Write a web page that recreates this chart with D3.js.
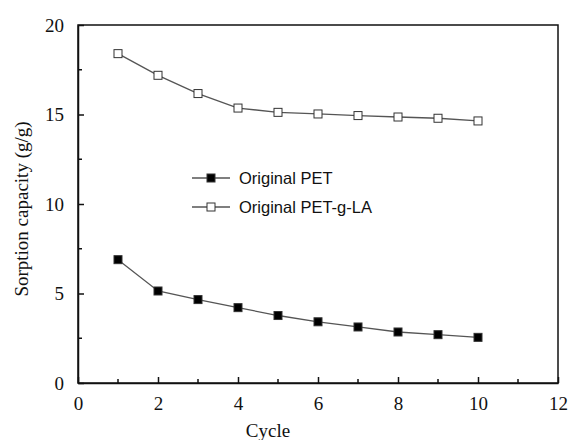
<!DOCTYPE html>
<html>
<head>
<meta charset="utf-8">
<script src="https://cdn.jsdelivr.net/npm/d3@7"></script>
<style>
  html, body { margin: 0; padding: 0; background: #fff; }
  svg { display: block; }
  .serif { font-family: 'Liberation Serif', 'Times New Roman', serif; }
  .sans { font-family: 'Liberation Sans', Arial, sans-serif; }
</style>
</head>
<body>
<svg id="chart" width="570" height="440"></svg>
<script>
// Sorption capacity over repeated sorption cycles
const cycles = [1, 2, 3, 4, 5, 6, 7, 8, 9, 10];
const originalPET = [6.89, 5.14, 4.66, 4.21, 3.77, 3.42, 3.13, 2.85, 2.70, 2.55];
const originalPETgLA = [18.40, 17.19, 16.17, 15.36, 15.12, 15.03, 14.94, 14.86, 14.79, 14.64];
const xTicks = [0, 2, 4, 6, 8, 10, 12];
const yTicks = [0, 5, 10, 15, 20];
const seriesNames = ["Original PET", "Original PET-g-LA"];

const svg = d3.select("#chart");
const plotLeft = 78, plotRight = 558, plotTop = 25, plotBottom = 383;

const x = d3.scaleLinear().domain([0, 12]).range([plotLeft, plotRight]);
const y = d3.scaleLinear().domain([0, 20]).range([plotBottom, plotTop]);

const serif = "'Liberation Serif', 'Times New Roman', serif";
const sans = "'Liberation Sans', Arial, sans-serif";

// Plot frame
svg.append("rect")
  .attr("x", plotLeft).attr("y", plotTop)
  .attr("width", plotRight - plotLeft).attr("height", plotBottom - plotTop)
  .attr("fill", "none").attr("stroke", "#111").attr("stroke-width", 1.5);

// Bottom axis: inward ticks, minor ticks at odd cycles
const xAxis = svg.append("g").attr("transform", `translate(0,${plotBottom})`)
  .call(d3.axisBottom(x).tickValues(xTicks).tickFormat(d3.format("d"))
    .tickSizeInner(-6).tickSizeOuter(0).tickPadding(14));
xAxis.attr("font-family", null).attr("font-size", null);
xAxis.select(".domain").attr("stroke", "#111").attr("stroke-width", 1.5);
xAxis.selectAll(".tick line").attr("stroke", "#111").attr("stroke-width", 1.5);
xAxis.selectAll(".tick text").attr("class", "serif")
  .style("font-family", serif).style("font-size", "19px").attr("fill", "#111");
svg.append("g").attr("transform", `translate(0,${plotBottom})`)
  .selectAll("line").data(d3.range(1, 12, 2)).join("line")
  .attr("x1", d => x(d)).attr("x2", d => x(d)).attr("y1", 0).attr("y2", -4)
  .attr("stroke", "#111").attr("stroke-width", 1.5);

// Left axis: inward ticks, minor ticks at half steps
const yAxis = svg.append("g").attr("transform", `translate(${plotLeft},0)`)
  .call(d3.axisLeft(y).tickValues(yTicks).tickFormat(d3.format("d"))
    .tickSizeInner(-6).tickSizeOuter(0).tickPadding(14));
yAxis.attr("font-family", null).attr("font-size", null);
yAxis.select(".domain").attr("stroke", "#111").attr("stroke-width", 1.5);
yAxis.selectAll(".tick line").attr("stroke", "#111").attr("stroke-width", 1.5);
yAxis.selectAll(".tick text").attr("class", "serif")
  .style("font-family", serif).style("font-size", "19px").attr("fill", "#111");
svg.append("g").attr("transform", `translate(${plotLeft},0)`)
  .selectAll("line").data([2.5, 7.5, 12.5, 17.5]).join("line")
  .attr("y1", d => y(d)).attr("y2", d => y(d)).attr("x1", 0).attr("x2", 4)
  .attr("stroke", "#111").attr("stroke-width", 1.5);

// Axis titles
svg.append("text")
  .attr("x", 268).attr("y", 437)
  .attr("text-anchor", "middle")
  .style("font-family", serif).style("font-size", "19px").attr("fill", "#111")
  .text("Cycle");
svg.append("text")
  .attr("transform", `translate(28,209) rotate(-90)`)
  .attr("text-anchor", "middle")
  .style("font-family", serif).style("font-size", "19px").attr("fill", "#111")
  .text("Sorption capacity (g/g)");

// Series
const line = d3.line().x((d, i) => x(cycles[i])).y(d => y(d));
const series = [
  { name: seriesNames[0], values: originalPET, fill: "#000" },
  { name: seriesNames[1], values: originalPETgLA, fill: "#fff" }
];
const ms = 8;

series.forEach(s => {
  svg.append("path").datum(s.values)
    .attr("d", line).attr("fill", "none")
    .attr("stroke", "#555").attr("stroke-width", 1.3);
  svg.append("g").selectAll("rect").data(s.values).join("rect")
    .attr("x", (d, i) => x(cycles[i]) - ms / 2)
    .attr("y", d => y(d) - ms / 2)
    .attr("width", ms).attr("height", ms)
    .attr("fill", s.fill).attr("stroke", "#333").attr("stroke-width", 1);
});

// Legend
const legend = svg.append("g");
series.forEach((s, i) => {
  const ly = 178 + i * 29;
  legend.append("line")
    .attr("x1", 192).attr("x2", 230).attr("y1", ly).attr("y2", ly)
    .attr("stroke", "#555").attr("stroke-width", 1.3);
  legend.append("rect")
    .attr("x", 211 - ms / 2).attr("y", ly - ms / 2)
    .attr("width", ms).attr("height", ms)
    .attr("fill", s.fill).attr("stroke", "#333").attr("stroke-width", 1);
  legend.append("text")
    .attr("x", 239).attr("y", ly + 6)
    .style("font-family", sans).style("font-size", "16.5px").attr("fill", "#111")
    .text(s.name);
});
</script>
</body>
</html>
